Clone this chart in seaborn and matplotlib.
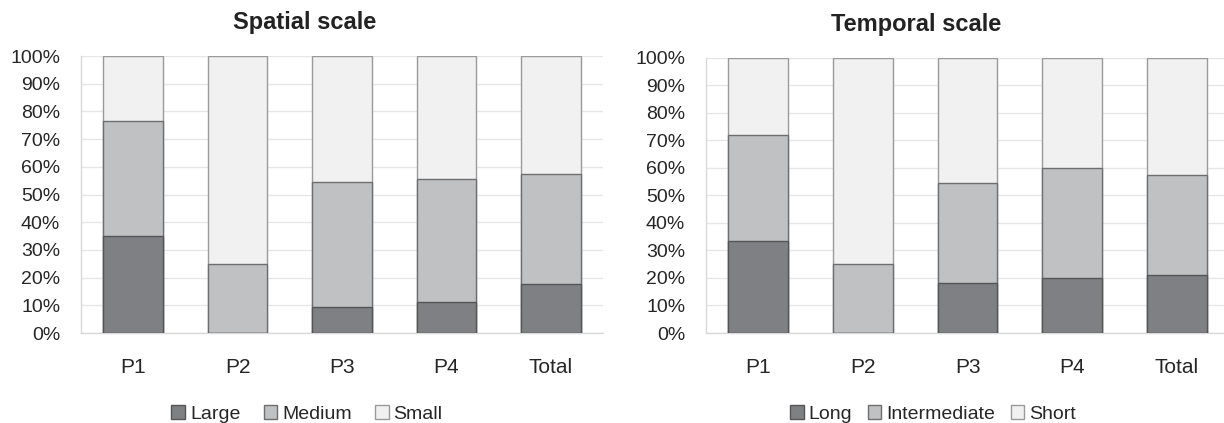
import matplotlib
matplotlib.use("Agg")
import matplotlib.pyplot as plt
import seaborn as sns
import pandas as pd
import numpy as np
from matplotlib.patches import Patch
from matplotlib.ticker import PercentFormatter

categories = ["P1", "P2", "P3", "P4", "Total"]

spatial_large = [35.0, 0.0, 9.3, 11.2, 17.7]
spatial_medium = [41.4, 25.0, 45.3, 44.3, 39.8]
spatial_small = [23.6, 75.0, 45.4, 44.5, 42.5]

temporal_long = [33.3, 0.0, 18.0, 20.0, 21.2]
temporal_inter = [38.7, 25.0, 36.4, 39.8, 36.1]
temporal_short = [28.0, 75.0, 45.6, 40.2, 42.7]

spatial_labels = ["Large", "Medium", "Small"]
temporal_labels = ["Long", "Intermediate", "Short"]
yticks = list(range(0, 101, 10))

sns.set_theme(style="white")
plt.rcParams["font.family"] = ["Liberation Sans", "DejaVu Sans"]

colors = ["#7f8084", "#c0c1c3", "#f1f1f1"]
edges = ["#555555", "#6e6e6e", "#9a9a9a"]

fig = plt.figure(figsize=(12.24, 4.23), dpi=100)
ax1 = fig.add_axes([81 / 1224, 90 / 423, 522 / 1224, 277 / 423])
ax2 = fig.add_axes([706 / 1224, 90 / 423, 518 / 1224, 275.3 / 423])


def draw(ax, a, b, c, labels):
    cum = [np.array(a) + np.array(b) + np.array(c), np.array(a) + np.array(b), np.array(a)]
    order = [2, 1, 0]
    for vals, idx in zip(cum, order):
        df = pd.DataFrame({"cat": categories, "val": vals})
        sns.barplot(data=df, x="cat", y="val", ax=ax, color=colors[idx],
                    edgecolor=edges[idx], linewidth=1.0, width=0.57,
                    saturation=1, zorder=3)
    ax.set_ylim(0, 100)
    ax.set_xlim(-0.5, 4.45 if ax is ax2 else 4.5)
    ax.set_yticks(yticks)
    ax.yaxis.set_major_formatter(PercentFormatter(decimals=0))
    ax.grid(axis="y", color="#e6e6e6", linewidth=1.0, zorder=0)
    ax.set_axisbelow(True)
    ax.set_xlabel("")
    ax.set_ylabel("")
    for s in ["top", "right"]:
        ax.spines[s].set_visible(False)
    for s in ["left", "bottom"]:
        ax.spines[s].set_color("#d9d9d9")
        ax.spines[s].set_linewidth(1.0)
    ax.tick_params(axis="y", labelsize=14, labelcolor="#262626", length=0, pad=15)
    ax.tick_params(axis="x", labelsize=15, labelcolor="#262626", length=0, pad=18)


draw(ax1, spatial_large, spatial_medium, spatial_small, spatial_labels)
draw(ax2, temporal_long, temporal_inter, temporal_short, temporal_labels)

fig.text(305 / 1224, 1 - 22 / 423, "Spatial scale", ha="center", va="center",
         fontsize=17, fontweight="bold", color="#222222")
fig.text(916 / 1224, 1 - 25 / 423, "Temporal scale", ha="center", va="center",
         fontsize=17, fontweight="bold", color="#222222")


def legend(labels, xc, cs):
    handles = [Patch(facecolor=colors[i], edgecolor=edges[i], linewidth=1.0) for i in range(3)]
    fig.legend(handles, labels, loc="center", bbox_to_anchor=(xc, 9 / 423), ncol=3,
               frameon=False, fontsize=14, handlelength=0.7, handleheight=0.7,
               handletextpad=0.25, columnspacing=cs, labelcolor="#262626")


legend(spatial_labels, 307 / 1224, 1.2)
legend(temporal_labels, 933 / 1224, 0.8)

fig.savefig("out.png", dpi=100)
